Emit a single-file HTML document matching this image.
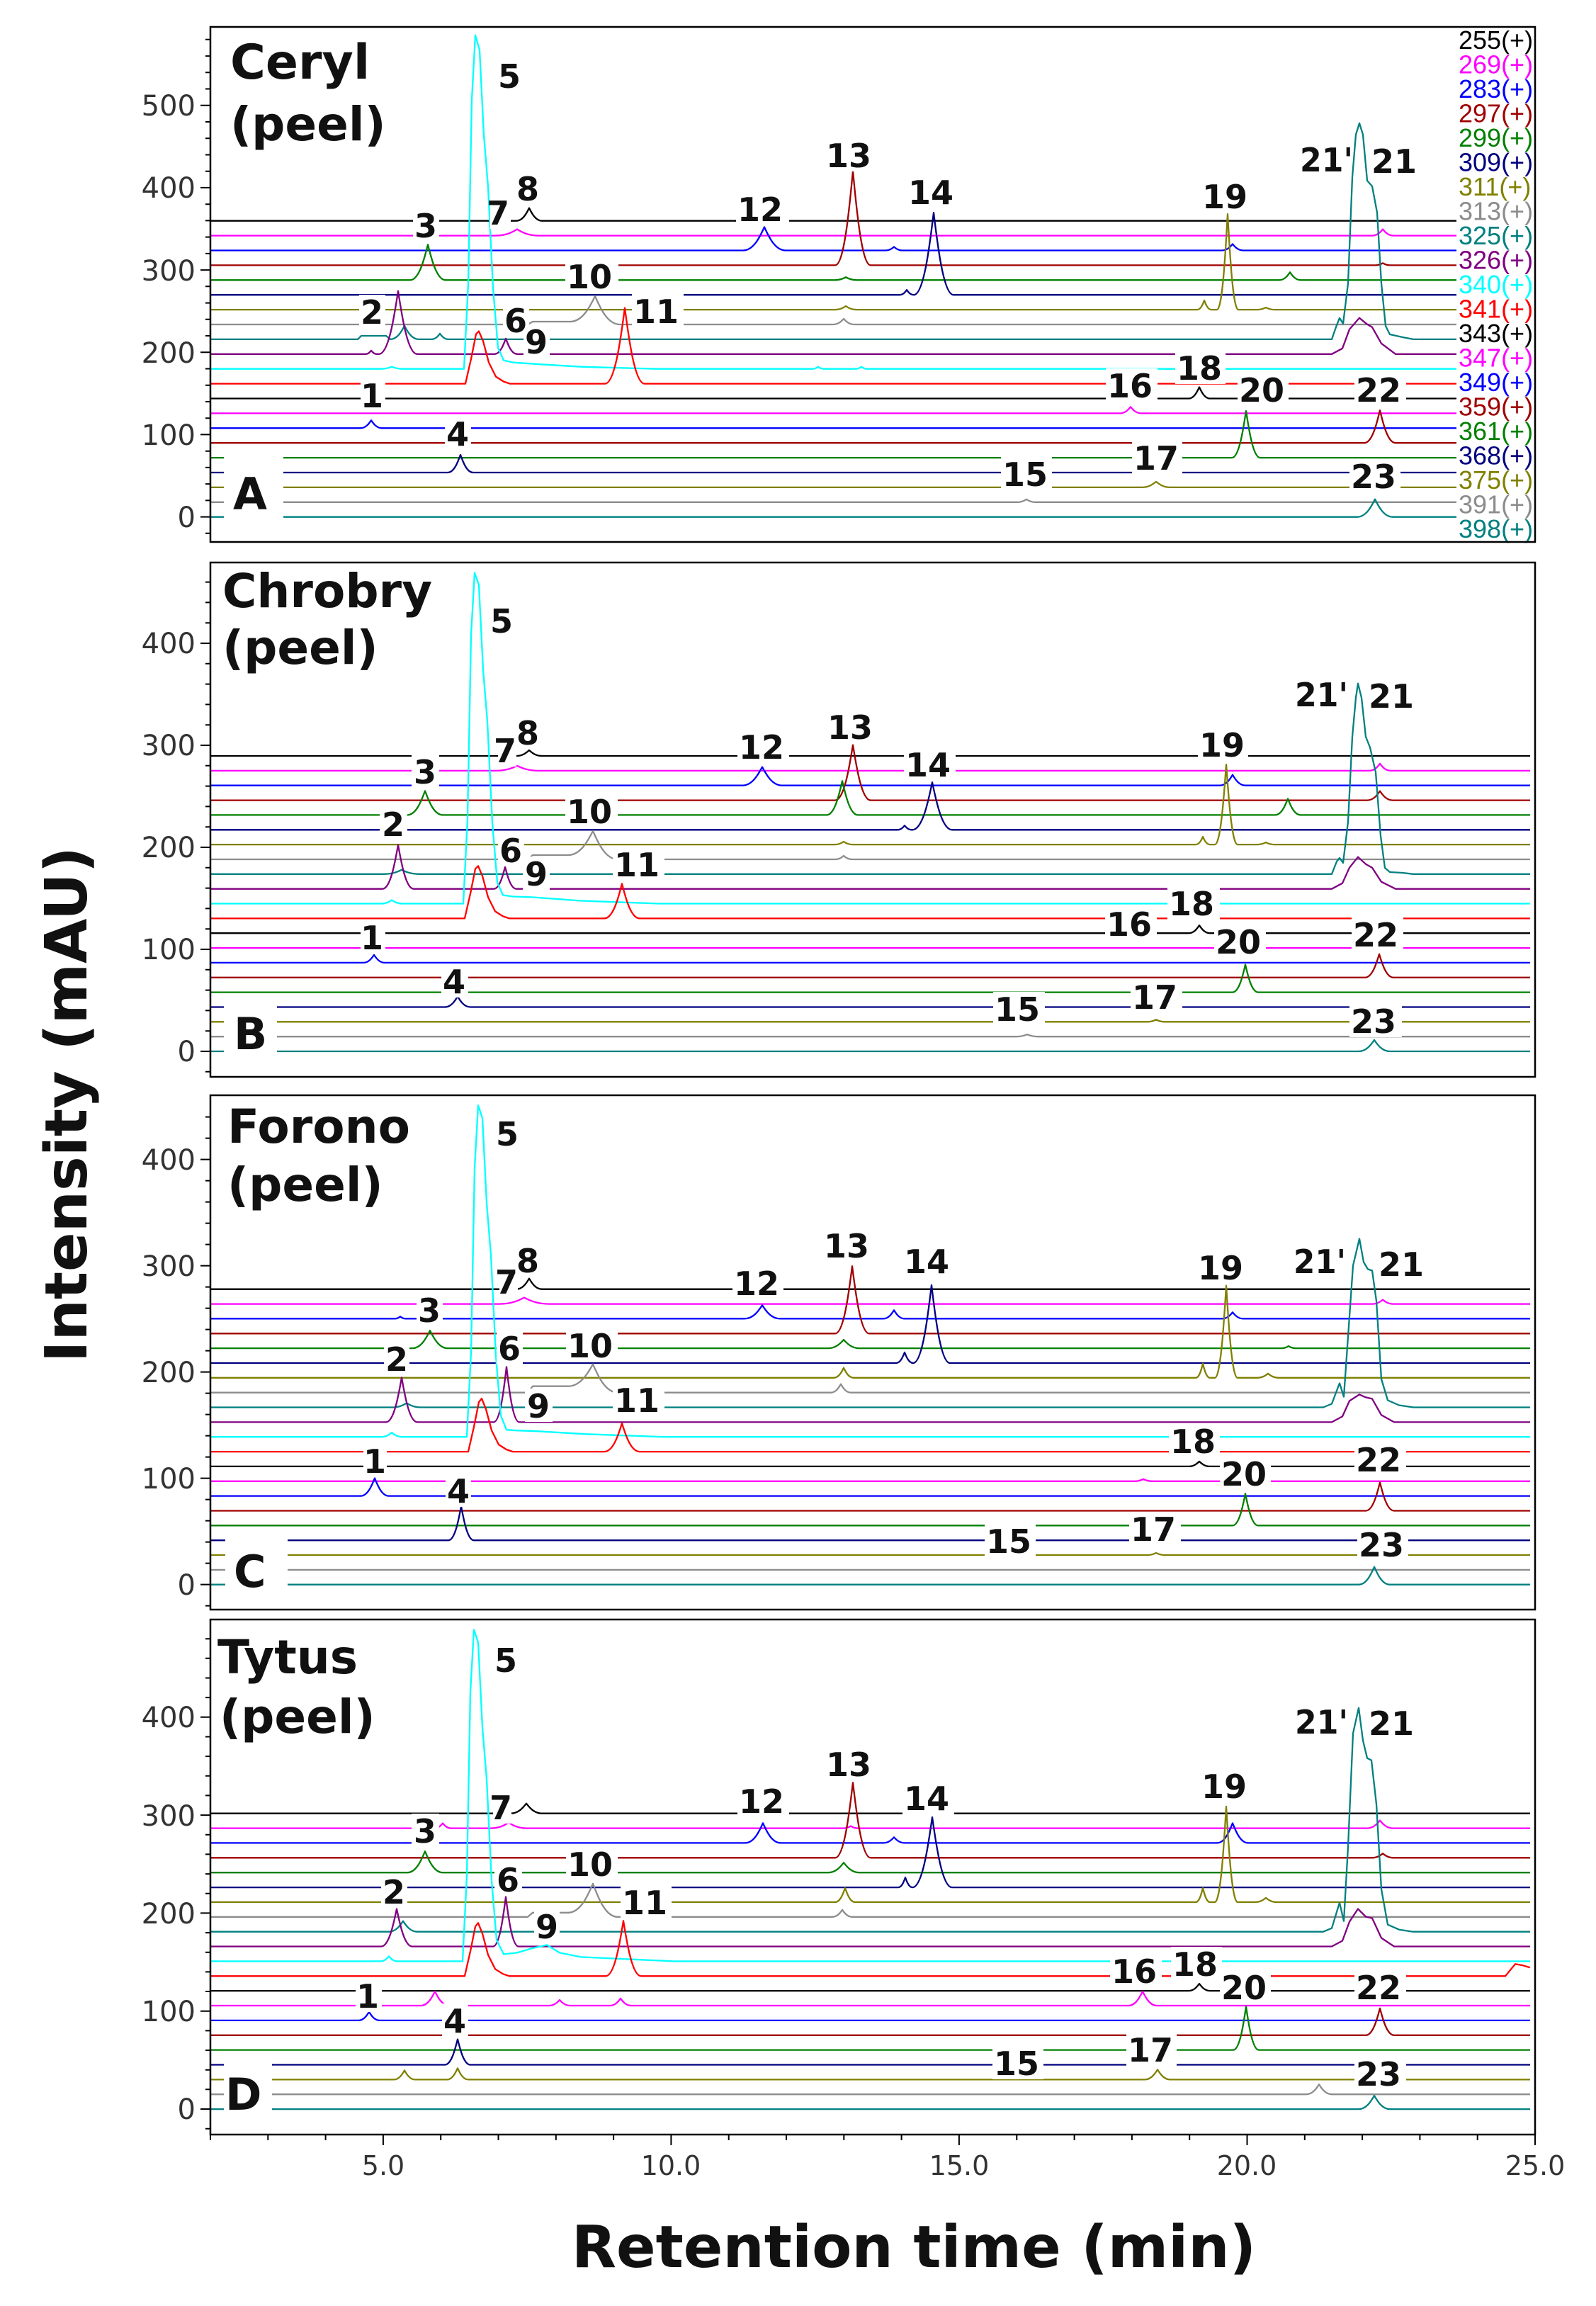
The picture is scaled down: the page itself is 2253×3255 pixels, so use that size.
<!DOCTYPE html>
<html><head><meta charset="utf-8"><style>
html,body{margin:0;padding:0;background:#fff;}
svg{display:block;}
.t path{fill:none;stroke-width:2.3;stroke-linejoin:round;stroke-linecap:butt;}
.k{stroke:#000}.m{stroke:#ff00ff}.b{stroke:#0000ff}.r2{stroke:#a00000}.g{stroke:#008000}.n{stroke:#000080}.o{stroke:#808000}.y{stroke:#8c8c8c}.tl{stroke:#008080}.p{stroke:#800080}.c{stroke:#00ffff}.r{stroke:#ff0000}
.pk{font-family:"DejaVu Sans",sans-serif;font-weight:bold;font-size:46px;fill:#111;}
.nm{font-family:"DejaVu Sans",sans-serif;font-weight:bold;font-size:66px;fill:#111;}
.lt{font-family:"DejaVu Sans",sans-serif;font-weight:bold;font-size:62px;fill:#111;}
.yl{font-family:"DejaVu Sans",sans-serif;font-size:40px;fill:#333;text-anchor:end;}
.xl{font-family:"DejaVu Sans",sans-serif;font-size:38px;fill:#333;text-anchor:middle;}
.lg{font-family:"Liberation Sans",sans-serif;font-size:36px;}
.ti{font-family:"DejaVu Sans",sans-serif;font-weight:bold;font-size:82px;fill:#111;text-anchor:middle;}
</style></head><body>
<svg width="2253" height="3255" viewBox="0 0 2253 3255" xmlns="http://www.w3.org/2000/svg">
<rect x="0" y="0" width="2253" height="3255" fill="#fff"/>

<!-- ===== Panel A traces ===== -->
<g class="t">
<path class="k" d="M297,311.7 H729 c9,0 14.4,-10.8 18,-18 c3.6,7.2 9,18 18,18 H2056"/>
<path class="m" d="M297,332.6 H700 c15,0 24,-5.4 30,-9 c6,3.6 15,9 30,9 H1937 c7.5,0 12,-5.4 15,-9 c3,3.6 7.5,9 15,9 H2056"/>
<path class="b" d="M297,353.5 H1049 c15,0 24,-19.8 30,-33 c6,13.2 15,33 30,33 H1250 c6,0 9.6,-3 12,-5 c2.4,2 6,5 12,5 H1725 c7.5,0 12,-5.4 15,-9 c3,3.6 7.5,9 15,9 H2056"/>
<path class="r2" d="M297,374.4 H1179 c12.5,0 20,-79.8 25,-133 c5,53.2 12.5,133 25,133 H1942 c5,0 8,-1.8 10,-3 c2,1.2 5,3 10,3 H2056"/>
<path class="g" d="M297,395.3 H579 c12.5,0 20,-30 25,-50 c5,20 12.5,50 25,50 H1179 c7.5,0 12,-2.4 15,-4 c3,1.6 7.5,4 15,4 H1806 c7.5,0 12,-6.6 15,-11 c3,4.4 7.5,11 15,11 H2056"/>
<path class="n" d="M297,416.2 H1270 c5,0 8,-4.2 10,-7 c2,2.8 5,7 10,7 c14,0 22.4,-69.6 28,-116 c5.6,46.4 14,116 28,116 H2056"/>
<path class="o" d="M297,437.1 H1179 c7.5,0 12,-3 15,-5 c3,2 7.5,5 15,5 H1690 c5,0 8,-7.8 10,-13 c2,5.2 5,13 10,13 H1718 c7.5,0 12,-81 15,-135 c3,54 7.5,135 15,135 H1775 c6,0 9.6,-1.8 12,-3 c2.4,1.2 6,3 12,3 H2056"/>
<path class="y" d="M297,458 H745 L752,454 H805 c17.5,0 28,-21.6 35,-36 c7,16 17.5,40 35,40 H1176 c7.5,0 12,-4.8 15,-8 c3,3.2 7.5,8 15,8 H2056"/>
<path class="tl" d="M297,478.9 H505 L510,474 H545 L551,478.9 c10,0 16,-11.4 20,-19 c4,7.6 10,19 20,19 H609 c6,0 9.6,-4.8 12,-8 c2.4,3.2 6,8 12,8 H1880 L1887,458.9 L1891,448.9 L1896,456.9 L1903,400 L1909,250 L1914,190 L1919,173.9 L1924,190 L1930,255 L1937,262.9 L1944,300 L1950,400 L1956,460 L1962,472 L1980,476 L1995,478.9 H2056"/>
<path class="p" d="M297,499.8 H516 c4,0 6.4,-3 8,-5 c1.6,2 4,5 8,5 H535 c13.5,0 21.6,-53.4 27,-89 c5.4,35.6 13.5,89 27,89 H698 c8,0 12.8,-13.2 16,-22 c3.2,8.8 8,22 16,22 H1880 L1895,491.8 L1905,464.8 L1919,448.8 L1930,457.8 L1937,461.8 L1950,484.8 L1970,499.8 H2056"/>
<path class="c" d="M297,520.7 H538 c7.5,0 12,-1.8 15,-3 c3,1.2 7.5,3 15,3 H655 L661,400.7 L666,140.7 L671,49.7 L677,70.7 L683,190.7 L689,263.7 L696,406.7 L703,490.7 L711,508.7 L725,511.7 L754,513.7 L820,517.7 L926,520.7 H1147 c4,0 6.4,-1.8 8,-3 c1.6,1.2 4,3 8,3 H1208 c4,0 6.4,-1.8 8,-3 c1.6,1.2 4,3 8,3 H2056"/>
<path class="r" d="M297,541.6 H657 L665,506.6 L672,471.6 L676,467.6 L682,481.6 L690,511.6 L700,531.6 L711,538.6 L720,541.6 H854 c14,0 22.4,-64.2 28,-107 c5.6,42.8 14,107 28,107 H2056"/>
<path class="k" d="M297,562.5 H1678 c7.5,0 12,-9.6 15,-16 c3,6.4 7.5,16 15,16 H2056"/>
<path class="m" d="M297,583.4 H1581 c7.5,0 12,-5.4 15,-9 c3,3.6 7.5,9 15,9 H2056"/>
<path class="b" d="M297,604.3 H509 c7.5,0 12,-6.6 15,-11 c3,4.4 7.5,11 15,11 H2056"/>
<path class="r2" d="M297,625.2 H1926 c11,0 17.6,-27.6 22,-46 c4.4,18.4 11,46 22,46 H2056"/>
<path class="g" d="M297,646.1 H1739 c10,0 16,-39.6 20,-66 c4,26.4 10,66 20,66 H2056"/>
<path class="n" d="M297,667 H632 c9,0 14.4,-15 18,-25 c3.6,10 9,25 18,25 H2056"/>
<path class="o" d="M297,687.9 H1612 c10,0 16,-4.8 20,-8 c4,3.2 10,8 20,8 H2056"/>
<path class="y" d="M297,708.8 H1437 c6,0 9.6,-2.4 12,-4 c2.4,1.6 6,4 12,4 H2056"/>
<path class="tl" d="M297,729.7 H1916 c12.5,0 20,-15 25,-25 c5,10 12.5,25 25,25 H2056"/>
</g>

<!-- ===== Panel B traces ===== -->
<g class="t">
<path class="k" d="M297,1067 H729 c9,0 14.4,-4.8 18,-8 c3.6,3.2 9,8 18,8 H2160"/>
<path class="m" d="M297,1087.9 H700 c15,0 24,-4.2 30,-7 c6,2.8 15,7 30,7 H1933 c7.5,0 12,-6 15,-10 c3,4 7.5,10 15,10 H2160"/>
<path class="b" d="M297,1108.7 H1048 c14,0 22.4,-15.6 28,-26 c5.6,10.4 14,26 28,26 H1722 c9,0 14.4,-9 18,-15 c3.6,6 9,15 18,15 H2160"/>
<path class="r2" d="M297,1129.6 H1179 c12.5,0 20,-46.8 25,-78 c5,31.2 12.5,78 25,78 H1930 c9,0 14.4,-7.8 18,-13 c3.6,5.2 9,13 18,13 H2160"/>
<path class="g" d="M297,1150.4 H575 c12.5,0 20,-20.4 25,-34 c5,13.6 12.5,34 25,34 H1167 c11,0 17.6,-28.8 22,-48 c4.4,19.2 11,48 22,48 H1800 c9,0 14.4,-13.8 18,-23 c3.6,9.2 9,23 18,23 H2160"/>
<path class="n" d="M297,1171.3 H1267 c5,0 8,-3.6 10,-6 c2,2.4 5,6 10,6 H1288 c14,0 22.4,-40.2 28,-67 c5.6,26.8 14,67 28,67 H2160"/>
<path class="o" d="M297,1192.1 H1179 c6,0 9.6,-2.4 12,-4 c2.4,1.6 6,4 12,4 H1688 c5,0 8,-6.6 10,-11 c2,4.4 5,11 10,11 H1715 c8,0 12.8,-67.8 16,-113 c3.2,45.2 8,113 16,113 H1775 c6,0 9.6,-1.8 12,-3 c2.4,1.2 6,3 12,3 H2160"/>
<path class="y" d="M297,1213 H745 L752,1207 H802 c17.5,0 28,-20.4 35,-34 c7,16 17.5,40 35,40 H1179 c6,0 9.6,-3 12,-5 c2.4,2 6,5 12,5 H2160"/>
<path class="tl" d="M297,1233.8 H542 c12.5,0 20,-3.6 25,-6 c5,2.4 12.5,6 25,6 H1880 L1887,1216 L1891,1211 L1896,1218 L1903,1160 L1909,1040 L1914,985 L1917,964.8 L1922,985 L1928,1040 L1934,1055 L1942,1090 L1949,1180 L1955,1225 L1962,1231 L1980,1232 L1995,1233.8 H2160"/>
<path class="p" d="M297,1254.7 H540 c11,0 17.6,-37.2 22,-62 c4.4,24.8 11,62 22,62 H697 c8,0 12.8,-18.6 16,-31 c3.2,12.4 8,31 16,31 H1880 L1895,1246.7 L1905,1224.7 L1917,1209.7 L1928,1219.7 L1937,1224.7 L1950,1244.7 L1970,1254.7 H2160"/>
<path class="c" d="M297,1275.5 H538 c7.5,0 12,-3 15,-5 c3,2 7.5,5 15,5 H654 L660,1155.5 L665,895.5 L670,808.5 L676,825.5 L682,945.5 L688,1018.5 L695,1161.5 L702,1245.5 L710,1263.5 L724,1265.5 L753,1266.5 L820,1271.5 L930,1275.5 H2160"/>
<path class="r" d="M297,1296.4 H656 L664,1261.4 L671,1226.4 L675,1222.4 L681,1236.4 L689,1266.4 L699,1286.4 L710,1293.4 L719,1296.4 H853 c12.5,0 20,-29.4 25,-49 c5,19.6 12.5,49 25,49 H2160"/>
<path class="k" d="M297,1317.2 H1678 c7.5,0 12,-6.6 15,-11 c3,4.4 7.5,11 15,11 H2160"/>
<path class="m" d="M297,1338.1 H2160"/>
<path class="b" d="M297,1358.9 H513 c7.5,0 12,-6.6 15,-11 c3,4.4 7.5,11 15,11 H2160"/>
<path class="r2" d="M297,1379.8 H1927 c10,0 16,-19.8 20,-33 c4,13.2 10,33 20,33 H2160"/>
<path class="g" d="M297,1400.6 H1740 c9,0 14.4,-23.4 18,-39 c3.6,15.6 9,39 18,39 H2160"/>
<path class="n" d="M297,1421.5 H628 c9,0 14.4,-9 18,-15 c3.6,6 9,15 18,15 H2160"/>
<path class="o" d="M297,1442.3 H1620 c6,0 9.6,-1.8 12,-3 c2.4,1.2 6,3 12,3 H2160"/>
<path class="y" d="M297,1463.2 H1435 c7.5,0 12,-1.8 15,-3 c3,1.2 7.5,3 15,3 H2160"/>
<path class="tl" d="M297,1484 H1918 c11,0 17.6,-9.6 22,-16 c4.4,6.4 11,16 22,16 H2160"/>
</g>

<!-- ===== Panel C traces ===== -->
<g class="t">
<path class="k" d="M297,1819.7 H729 c9,0 14.4,-9 18,-15 c3.6,6 9,15 18,15 H2160"/>
<path class="m" d="M297,1840.6 H705 c17.5,0 28,-5.4 35,-9 c7,3.6 17.5,9 35,9 H1937 c7.5,0 12,-3.6 15,-6 c3,2.4 7.5,6 15,6 H2160"/>
<path class="b" d="M297,1861.4 H557 c4,0 6.4,-1.8 8,-3 c1.6,1.2 4,3 8,3 H1051 c12.5,0 20,-11.4 25,-19 c5,7.6 12.5,19 25,19 H1247 c7.5,0 12,-7.2 15,-12 c3,4.8 7.5,12 15,12 H1725 c7.5,0 12,-5.4 15,-9 c3,3.6 7.5,9 15,9 H2160"/>
<path class="r2" d="M297,1882.3 H1179 c12,0 19.2,-57 24,-95 c4.8,38 12,95 24,95 H2160"/>
<path class="g" d="M297,1903.1 H582 c12.5,0 20,-15 25,-25 c5,10 12.5,25 25,25 H1169 c11,0 17.6,-7.2 22,-12 c4.4,4.8 11,12 22,12 H1809 c5,0 8,-1.8 10,-3 c2,1.2 5,3 10,3 H2160"/>
<path class="n" d="M297,1924 H1265 c6,0 9.6,-9 12,-15 c2.4,6 6,15 12,15 c13,0 20.8,-66 26,-110 c5.2,44 13,110 26,110 H2160"/>
<path class="o" d="M297,1944.8 H1177 c7,0 11.2,-8.4 14,-14 c2.8,5.6 7,14 14,14 H1688 c5,0 8,-12 10,-20 c2,8 5,20 10,20 H1715 c8,0 12.8,-78 16,-130 c3.2,52 8,130 16,130 H1775 c7.5,0 12,-3.6 15,-6 c3,2.4 7.5,6 15,6 H2160"/>
<path class="y" d="M297,1965.7 H745 L752,1956.7 H802 c17.5,0 28,-18.6 35,-31 c7,16 17.5,40 35,40 H1173 c7,0 11.2,-7.2 14,-12 c2.8,4.8 7,12 14,12 H2160"/>
<path class="tl" d="M297,1986.5 H554 c10,0 16,-3.6 20,-6 c4,2.4 10,6 20,6 H1868 L1880,1981.5 L1891,1952.5 L1897,1971.5 L1903,1886.5 L1910,1786.5 L1919,1748.5 L1925,1781.5 L1931,1791.5 L1937,1793.5 L1943,1836.5 L1950,1946.5 L1959,1976.5 L1975,1983.5 L1995,1986.5 H2160"/>
<path class="p" d="M297,2007.4 H545 c11,0 17.6,-37.8 22,-63 c4.4,25.2 11,63 22,63 H697 c9,0 14.4,-46.8 18,-78 c3.6,31.2 9,78 18,78 H1880 L1895,1999.4 L1905,1977.4 L1919,1968.4 L1928,1972.4 L1937,1974.4 L1950,1997.4 L1968,2007.4 H2160"/>
<path class="c" d="M297,2028.2 H538 c7.5,0 12,-3.6 15,-6 c3,2.4 7.5,6 15,6 H659 L665,1908.2 L670,1648.2 L675,1560.2 L681,1578.2 L687,1698.2 L693,1771.2 L700,1914.2 L707,1998.2 L715,2018.2 L729,2019.2 L758,2020.2 L825,2024.2 L935,2028.2 H2160"/>
<path class="r" d="M297,2049.1 H661 L669,2014.1 L676,1979.1 L680,1974.1 L686,1989.1 L694,2019.1 L704,2039.1 L715,2046.1 L724,2049.1 H853 c12.5,0 20,-24 25,-40 c5,16 12.5,40 25,40 H2160"/>
<path class="k" d="M297,2069.9 H1678 c7.5,0 12,-4.2 15,-7 c3,2.8 7.5,7 15,7 H2160"/>
<path class="m" d="M297,2090.8 H1602 c6,0 9.6,-1.8 12,-3 c2.4,1.2 6,3 12,3 H2160"/>
<path class="b" d="M297,2111.6 H509 c10,0 16,-15 20,-25 c4,10 10,25 20,25 H2160"/>
<path class="r2" d="M297,2132.5 H1928 c10,0 16,-24 20,-40 c4,16 10,40 20,40 H2160"/>
<path class="g" d="M297,2153.3 H1740 c9,0 14.4,-27 18,-45 c3.6,18 9,45 18,45 H2160"/>
<path class="n" d="M297,2174.2 H633 c9,0 14.4,-28.8 18,-48 c3.6,19.2 9,48 18,48 H2160"/>
<path class="o" d="M297,2195 H1620 c6,0 9.6,-1.8 12,-3 c2.4,1.2 6,3 12,3 H2160"/>
<path class="y" d="M297,2215.9 H2160"/>
<path class="tl" d="M297,2236.7 H1918 c11,0 17.6,-15 22,-25 c4.4,10 11,25 22,25 H2160"/>
</g>

<!-- ===== Panel D traces ===== -->
<g class="t">
<path class="k" d="M297,2559.7 H721 c11,0 17.6,-8.4 22,-14 c4.4,5.6 11,14 22,14 H2160"/>
<path class="m" d="M297,2580.6 H613 c6,0 9.6,-4.2 12,-7 c2.4,2.8 6,7 12,7 H693 c12.5,0 20,-4.8 25,-8 c5,3.2 12.5,8 25,8 H1191 c5,0 8,-1.8 10,-3 c2,1.2 5,3 10,3 H1930 c9,0 14.4,-6.6 18,-11 c3.6,4.4 9,11 18,11 H2160"/>
<path class="b" d="M297,2601.4 H1052 c12.5,0 20,-16.8 25,-28 c5,11.2 12.5,28 25,28 H1247 c7.5,0 12,-4.8 15,-8 c3,3.2 7.5,8 15,8 H1718 c11,0 17.6,-16.8 22,-28 c4.4,11.2 11,28 22,28 H2160"/>
<path class="r2" d="M297,2622.3 H1179 c12.5,0 20,-63.6 25,-106 c5,42.4 12.5,106 25,106 H1937 c7.5,0 12,-3.6 15,-6 c3,2.4 7.5,6 15,6 H2160"/>
<path class="g" d="M297,2643.2 H575 c12.5,0 20,-18 25,-30 c5,12 12.5,30 25,30 H1169 c11,0 17.6,-8.4 22,-14 c4.4,5.6 11,14 22,14 H2160"/>
<path class="n" d="M297,2664.1 H1268 c5,0 8,-8.4 10,-14 c2,5.6 5,14 10,14 c14,0 22.4,-59.4 28,-99 c5.6,39.6 14,99 28,99 H2160"/>
<path class="o" d="M297,2684.9 H1179 c7,0 11.2,-12 14,-20 c2.8,8 7,20 14,20 H1688 c5,0 8,-12 10,-20 c2,8 5,20 10,20 H1715 c8,0 12.8,-81 16,-135 c3.2,54 8,135 16,135 H1772 c7.5,0 12,-3.6 15,-6 c3,2.4 7.5,6 15,6 H2160"/>
<path class="y" d="M297,2705.8 H745 L752,2699.8 H802 c17.5,0 28,-24.6 35,-41 c7,18.8 17.5,47 35,47 H1175 c7,0 11.2,-6 14,-10 c2.8,4 7,10 14,10 H2160"/>
<path class="tl" d="M297,2726.7 H549 c10,0 16,-9 20,-15 c4,6 10,15 20,15 H1868 L1880,2721.7 L1891,2685.7 L1897,2711.7 L1903,2606.7 L1910,2446.7 L1918,2410.7 L1924,2456.7 L1930,2481.7 L1936,2484.7 L1943,2546.7 L1950,2666.7 L1959,2716.7 L1975,2723.7 L1995,2726.7 H2160"/>
<path class="p" d="M297,2747.5 H538 c11,0 17.6,-31.8 22,-53 c4.4,21.2 11,53 22,53 H696 c9,0 14.4,-42 18,-70 c3.6,28 9,70 18,70 H1880 L1895,2739.5 L1905,2712.5 L1917,2694.5 L1928,2705.5 L1937,2707.5 L1950,2735.5 L1968,2747.5 H2160"/>
<path class="c" d="M297,2768.4 H537 c6,0 9.6,-4.2 12,-7 c2.4,2.8 6,7 12,7 H653 L659,2648.4 L664,2388.4 L669,2300.4 L675,2318.4 L681,2438.4 L687,2511.4 L694,2654.4 L701,2738.4 L711,2758.4 L730,2756.4 L750,2750.4 L772,2745.4 L790,2756.4 L820,2762.4 L951,2768.4 H2160"/>
<path class="r" d="M297,2789.3 H656 L664,2754.3 L671,2719.3 L675,2714.3 L681,2729.3 L689,2759.3 L699,2779.3 L710,2786.3 L719,2789.3 H855 c12.5,0 20,-46.8 25,-78 c5,31.2 12.5,78 25,78 H2125 L2139,2772.3 L2150,2774.3 L2160,2777.3"/>
<path class="k" d="M297,2810.1 H1678 c7.5,0 12,-6 15,-10 c3,4 7.5,10 15,10 H2160"/>
<path class="m" d="M297,2831 H594 c10,0 16,-12 20,-20 c4,8 10,20 20,20 H775 c7.5,0 12,-4.8 15,-8 c3,3.2 7.5,8 15,8 H861 c7.5,0 12,-6 15,-10 c3,4 7.5,10 15,10 H1593 c10,0 16,-12 20,-20 c4,8 10,20 20,20 H2160"/>
<path class="b" d="M297,2851.9 H506 c7.5,0 12,-7.2 15,-12 c3,4.8 7.5,12 15,12 H2160"/>
<path class="r2" d="M297,2872.8 H1928 c10,0 16,-22.8 20,-38 c4,15.2 10,38 20,38 H2160"/>
<path class="g" d="M297,2893.6 H1741 c9,0 14.4,-36.6 18,-61 c3.6,24.4 9,61 18,61 H2160"/>
<path class="n" d="M297,2914.5 H628 c9,0 14.4,-21.6 18,-36 c3.6,14.4 9,36 18,36 H2160"/>
<path class="o" d="M297,2935.4 H556 c7.5,0 12,-7.8 15,-13 c3,5.2 7.5,13 15,13 H631 c7.5,0 12,-9.6 15,-16 c3,6.4 7.5,16 15,16 H1616 c9,0 14.4,-8.4 18,-14 c3.6,5.6 9,14 18,14 H2160"/>
<path class="y" d="M297,2956.2 H1844 c9,0 14.4,-8.4 18,-14 c3.6,5.6 9,14 18,14 H2160"/>
<path class="tl" d="M297,2977.1 H1918 c11,0 17.6,-11.4 22,-19 c4.4,7.6 11,19 22,19 H2160"/>
</g>

<!-- ===== label background boxes ===== -->
<g fill="#fff">
<!-- A -->
<rect x="700" y="83" width="35" height="47"/><rect x="727" y="242" width="35" height="47"/><rect x="692" y="276" width="29" height="47"/>
<rect x="583" y="294" width="37" height="47"/><rect x="1039" y="271" width="75" height="47"/><rect x="798" y="366" width="75" height="47"/>
<rect x="507" y="416" width="37" height="47"/><rect x="892" y="415" width="73" height="47"/><rect x="710" y="428" width="37" height="47"/>
<rect x="739" y="458" width="37" height="47"/><rect x="509" y="534" width="35" height="47"/><rect x="628" y="588" width="37" height="47"/>
<rect x="1164" y="195" width="72" height="47"/><rect x="1280" y="247" width="73" height="47"/><rect x="1695" y="253" width="71" height="47"/>
<rect x="1833" y="201" width="74" height="47"/><rect x="1934" y="203" width="72" height="47"/><rect x="1561" y="520" width="73" height="47"/>
<rect x="1659" y="495" width="71" height="47"/><rect x="1747" y="526" width="72" height="47"/><rect x="1912" y="526" width="73" height="47"/>
<rect x="1598" y="622" width="71" height="47"/><rect x="1413" y="645" width="72" height="47"/><rect x="1905" y="648" width="72" height="47"/>
<rect x="316" y="638" width="84" height="98"/>
<!-- B -->
<rect x="689" y="852" width="37" height="47"/><rect x="703" y="1035" width="26" height="47"/><rect x="727" y="1010" width="35" height="47"/>
<rect x="581" y="1065" width="39" height="47"/><rect x="1041" y="1030" width="73" height="47"/><rect x="798" y="1121" width="74" height="47"/>
<rect x="536" y="1139" width="39" height="47"/><rect x="703" y="1176" width="37" height="47"/><rect x="738" y="1209" width="38" height="47"/>
<rect x="865" y="1196" width="73" height="47"/><rect x="509" y="1299" width="35" height="47"/><rect x="623" y="1361" width="38" height="47"/>
<rect x="1166" y="1002" width="73" height="47"/><rect x="1276" y="1055" width="73" height="47"/><rect x="1691" y="1027" width="71" height="47"/>
<rect x="1826" y="956" width="74" height="47"/><rect x="1930" y="958" width="73" height="47"/><rect x="1648" y="1251" width="74" height="47"/>
<rect x="1560" y="1280" width="73" height="47"/><rect x="1714" y="1305" width="73" height="47"/><rect x="1908" y="1295" width="73" height="47"/>
<rect x="1596" y="1383" width="73" height="47"/><rect x="1402" y="1400" width="73" height="47"/><rect x="1905" y="1417" width="74" height="47"/>
<rect x="316" y="1412" width="75" height="80"/>
<!-- C -->
<rect x="698" y="1576" width="37" height="47"/><rect x="705" y="1785" width="26" height="47"/><rect x="727" y="1755" width="35" height="47"/>
<rect x="1034" y="1787" width="72" height="47"/><rect x="588" y="1825" width="37" height="47"/><rect x="701" y="1879" width="37" height="47"/>
<rect x="799" y="1875" width="73" height="47"/><rect x="542" y="1894" width="36" height="47"/><rect x="741" y="1960" width="39" height="47"/>
<rect x="865" y="1952" width="73" height="47"/><rect x="513" y="2038" width="33" height="47"/><rect x="629" y="2080" width="36" height="47"/>
<rect x="1161" y="1734" width="73" height="47"/><rect x="1274" y="1756" width="73" height="47"/><rect x="1689" y="1765" width="72" height="47"/>
<rect x="1824" y="1756" width="74" height="47"/><rect x="1944" y="1760" width="73" height="47"/><rect x="1650" y="2010" width="72" height="47"/>
<rect x="1722" y="2056" width="72" height="47"/><rect x="1912" y="2036" width="73" height="47"/><rect x="1594" y="2134" width="73" height="47"/>
<rect x="1390" y="2151" width="72" height="47"/><rect x="1916" y="2156" width="72" height="47"/>
<rect x="318" y="2164" width="88" height="80"/>
<!-- D -->
<rect x="696" y="2319" width="35" height="47"/><rect x="696" y="2527" width="26" height="47"/><rect x="1041" y="2518" width="73" height="47"/>
<rect x="581" y="2560" width="39" height="47"/><rect x="799" y="2607" width="73" height="47"/><rect x="698" y="2629" width="39" height="47"/>
<rect x="538" y="2646" width="37" height="47"/><rect x="876" y="2661" width="72" height="47"/><rect x="754" y="2695" width="36" height="47"/>
<rect x="502" y="2793" width="37" height="47"/><rect x="624" y="2828" width="37" height="47"/><rect x="1164" y="2466" width="72" height="47"/>
<rect x="1274" y="2514" width="73" height="47"/><rect x="1694" y="2497" width="72" height="47"/><rect x="1826" y="2406" width="74" height="47"/>
<rect x="1930" y="2408" width="73" height="47"/><rect x="1567" y="2758" width="73" height="47"/><rect x="1653" y="2748" width="72" height="47"/>
<rect x="1722" y="2781" width="72" height="47"/><rect x="1912" y="2781" width="73" height="47"/><rect x="1590" y="2869" width="71" height="47"/>
<rect x="1401" y="2888" width="72" height="47"/><rect x="1912" y="2903" width="73" height="47"/>
<rect x="316" y="2905" width="68" height="80"/>
</g>

<!-- ===== peak labels ===== -->
<g class="pk">
<!-- A -->
<text x="703" y="124">5</text><text x="729" y="283">8</text><text x="687" y="317">7</text><text x="585" y="335">3</text>
<text x="1041" y="312">12</text><text x="800" y="407">10</text><text x="509" y="457">2</text><text x="894" y="456">11</text>
<text x="712" y="469">6</text><text x="741" y="499">9</text><text x="509" y="575">1</text><text x="630" y="629">4</text>
<text x="1166" y="236">13</text><text x="1282" y="288">14</text><text x="1697" y="294">19</text><text x="1835" y="242" textLength="75" lengthAdjust="spacingAndGlyphs">21'</text>
<text x="1936" y="244">21</text><text x="1563" y="561">16</text><text x="1661" y="536">18</text><text x="1749" y="567">20</text>
<text x="1914" y="567">22</text><text x="1600" y="663">17</text><text x="1415" y="686">15</text><text x="1907" y="689">23</text>
<!-- B -->
<text x="692" y="893">5</text><text x="697" y="1076">7</text><text x="729" y="1051">8</text><text x="584" y="1106">3</text>
<text x="1043" y="1071">12</text><text x="800" y="1162">10</text><text x="539" y="1180">2</text><text x="705" y="1217">6</text>
<text x="741" y="1250">9</text><text x="867" y="1237">11</text><text x="509" y="1340">1</text><text x="625" y="1402">4</text>
<text x="1168" y="1043">13</text><text x="1278" y="1096">14</text><text x="1693" y="1068">19</text><text x="1828" y="997" textLength="75" lengthAdjust="spacingAndGlyphs">21'</text>
<text x="1932" y="999">21</text><text x="1650" y="1292">18</text><text x="1562" y="1321">16</text><text x="1716" y="1346">20</text>
<text x="1910" y="1336">22</text><text x="1598" y="1424">17</text><text x="1404" y="1441">15</text><text x="1907" y="1458">23</text>
<!-- C -->
<text x="700" y="1617">5</text><text x="699" y="1826">7</text><text x="729" y="1796">8</text><text x="1036" y="1828">12</text>
<text x="590" y="1866">3</text><text x="703" y="1920">6</text><text x="801" y="1916">10</text><text x="544" y="1935">2</text>
<text x="744" y="2001">9</text><text x="867" y="1993">11</text><text x="513" y="2079">1</text><text x="631" y="2121">4</text>
<text x="1163" y="1775">13</text><text x="1276" y="1797">14</text><text x="1691" y="1806">19</text><text x="1826" y="1797" textLength="74" lengthAdjust="spacingAndGlyphs">21'</text>
<text x="1946" y="1801">21</text><text x="1652" y="2051">18</text><text x="1724" y="2097">20</text><text x="1914" y="2077">22</text>
<text x="1596" y="2175">17</text><text x="1392" y="2192">15</text><text x="1918" y="2197">23</text>
<!-- D -->
<text x="698" y="2360">5</text><text x="691" y="2568">7</text><text x="1043" y="2559">12</text><text x="584" y="2601">3</text>
<text x="801" y="2648">10</text><text x="701" y="2670">6</text><text x="540" y="2687">2</text><text x="878" y="2702">11</text>
<text x="756" y="2736">9</text><text x="503" y="2834">1</text><text x="626" y="2869">4</text><text x="1166" y="2507">13</text>
<text x="1276" y="2555">14</text><text x="1696" y="2538">19</text><text x="1828" y="2447" textLength="75" lengthAdjust="spacingAndGlyphs">21'</text><text x="1932" y="2449">21</text>
<text x="1569" y="2799">16</text><text x="1655" y="2789">18</text><text x="1724" y="2822">20</text><text x="1914" y="2822">22</text>
<text x="1592" y="2910">17</text><text x="1403" y="2929">15</text><text x="1914" y="2944">23</text>
</g>

<!-- ===== panel names & letters ===== -->
<g class="nm">
<text x="325" y="111" style="font-size:68px">Ceryl</text><text x="325" y="198">(peel)</text>
<text x="314" y="857">Chrobry</text><text x="314" y="937">(peel)</text>
<text x="321" y="1613">Forono</text><text x="321" y="1695">(peel)</text>
<text x="307" y="2362">Tytus</text><text x="310" y="2446">(peel)</text>
</g>
<g class="lt">
<text x="329" y="719">A</text><text x="330" y="1481">B</text><text x="330" y="2240">C</text><text x="318" y="2978">D</text>
</g>

<!-- ===== legend (panel A) ===== -->
<g class="lg">
<text x="2059" y="69" fill="#000">255(+)</text>
<text x="2059" y="103.5" fill="#ff00ff">269(+)</text>
<text x="2059" y="138" fill="#0000ff">283(+)</text>
<text x="2059" y="172.5" fill="#a00000">297(+)</text>
<text x="2059" y="207" fill="#008000">299(+)</text>
<text x="2059" y="241.5" fill="#000080">309(+)</text>
<text x="2059" y="276" fill="#808000">311(+)</text>
<text x="2059" y="310.5" fill="#8c8c8c">313(+)</text>
<text x="2059" y="345" fill="#008080">325(+)</text>
<text x="2059" y="379.5" fill="#800080">326(+)</text>
<text x="2059" y="414" fill="#00ffff">340(+)</text>
<text x="2059" y="448.5" fill="#ff0000">341(+)</text>
<text x="2059" y="483" fill="#000">343(+)</text>
<text x="2059" y="517.5" fill="#ff00ff">347(+)</text>
<text x="2059" y="552" fill="#0000ff">349(+)</text>
<text x="2059" y="586.5" fill="#a00000">359(+)</text>
<text x="2059" y="621" fill="#008000">361(+)</text>
<text x="2059" y="655.5" fill="#000080">368(+)</text>
<text x="2059" y="690" fill="#808000">375(+)</text>
<text x="2059" y="724.5" fill="#8c8c8c">391(+)</text>
<text x="2059" y="759" fill="#008080">398(+)</text>
</g>

<!-- ===== frames ===== -->
<g fill="none" stroke="#000" stroke-width="2.5">
<rect x="297" y="38" width="1870" height="727"/>
<rect x="297" y="794" width="1870" height="726"/>
<rect x="297" y="1546" width="1870" height="726"/>
<rect x="297" y="2286" width="1870" height="727"/>
</g>

<!-- ===== y ticks ===== -->
<g stroke="#000" stroke-width="2" fill="none">
<path d="M283,729.6H297M283,613.4H297M283,497.3H297M283,381.1H297M283,264.9H297M283,148.8H297
M290,752.8H297M290,706.4H297M290,683.1H297M290,659.9H297M290,636.7H297M290,590.2H297M290,567H297M290,543.7H297M290,520.5H297M290,474H297M290,450.8H297M290,427.6H297M290,404.3H297M290,357.9H297M290,334.6H297M290,311.4H297M290,288.2H297M290,241.7H297M290,218.5H297M290,195.2H297M290,172H297M290,125.5H297M290,102.3H297M290,79.1H297M290,55.8H297"/>
<path d="M283,1484H297M283,1340H297M283,1196H297M283,1052H297M283,908H297
M290,1512.8H297M290,1455.2H297M290,1426.4H297M290,1397.6H297M290,1368.8H297M290,1311.2H297M290,1282.4H297M290,1253.6H297M290,1224.8H297M290,1167.2H297M290,1138.4H297M290,1109.6H297M290,1080.8H297M290,1023.2H297M290,994.4H297M290,965.6H297M290,936.8H297M290,879.2H297M290,850.4H297M290,821.6H297"/>
<path d="M283,2236.6H297M283,2086.6H297M283,1936.6H297M283,1786.6H297M283,1636.6H297
M290,2266.6H297M290,2206.6H297M290,2176.6H297M290,2146.6H297M290,2116.6H297M290,2056.6H297M290,2026.6H297M290,1996.6H297M290,1966.6H297M290,1906.6H297M290,1876.6H297M290,1846.6H297M290,1816.6H297M290,1756.6H297M290,1726.6H297M290,1696.6H297M290,1666.6H297M290,1606.6H297M290,1576.6H297"/>
<path d="M283,2977H297M283,2838.7H297M283,2700.4H297M283,2562.1H297M283,2423.8H297
M290,3004.7H297M290,2949.3H297M290,2921.7H297M290,2894H297M290,2866.4H297M290,2811H297M290,2783.4H297M290,2755.7H297M290,2728.1H297M290,2672.7H297M290,2645.1H297M290,2617.4H297M290,2589.8H297M290,2534.4H297M290,2506.8H297M290,2479.1H297M290,2451.5H297M290,2396.1H297M290,2368.5H297M290,2340.8H297M290,2313.2H297"/>
<!-- x ticks -->
<path d="M540.9,3013V3028M947.4,3013V3028M1353.9,3013V3028M1760.5,3013V3028M2167,3013V3028
M297,3013V3021M378.3,3013V3021M459.6,3013V3021M622.2,3013V3021M703.5,3013V3021M784.8,3013V3021M866.1,3013V3021M1028.7,3013V3021M1110,3013V3021M1191.3,3013V3021M1272.6,3013V3021M1435.3,3013V3021M1516.6,3013V3021M1597.9,3013V3021M1679.2,3013V3021M1841.8,3013V3021M1923.1,3013V3021M2004.4,3013V3021M2085.7,3013V3021"/>
</g>

<!-- ===== y tick labels ===== -->
<g class="yl">
<text x="276" y="744">0</text><text x="276" y="628">100</text><text x="276" y="512">200</text><text x="276" y="396">300</text><text x="276" y="279">400</text><text x="276" y="163">500</text>
<text x="276" y="1498">0</text><text x="276" y="1354">100</text><text x="276" y="1210">200</text><text x="276" y="1066">300</text><text x="276" y="922">400</text>
<text x="276" y="2251">0</text><text x="276" y="2101">100</text><text x="276" y="1951">200</text><text x="276" y="1801">300</text><text x="276" y="1651">400</text>
<text x="276" y="2991">0</text><text x="276" y="2853">100</text><text x="276" y="2715">200</text><text x="276" y="2577">300</text><text x="276" y="2438">400</text>
</g>

<!-- ===== x tick labels ===== -->
<g class="xl">
<text x="541" y="3070">5.0</text><text x="947" y="3070">10.0</text><text x="1354" y="3070">15.0</text><text x="1760" y="3070">20.0</text><text x="2167" y="3070">25.0</text>
</g>

<!-- ===== axis titles ===== -->
<text class="ti" x="1290" y="3200">Retention time (min)</text>
<text class="ti" x="0" y="0" transform="translate(122,1559) rotate(-90)">Intensity (mAU)</text>
</svg>
</body></html>
